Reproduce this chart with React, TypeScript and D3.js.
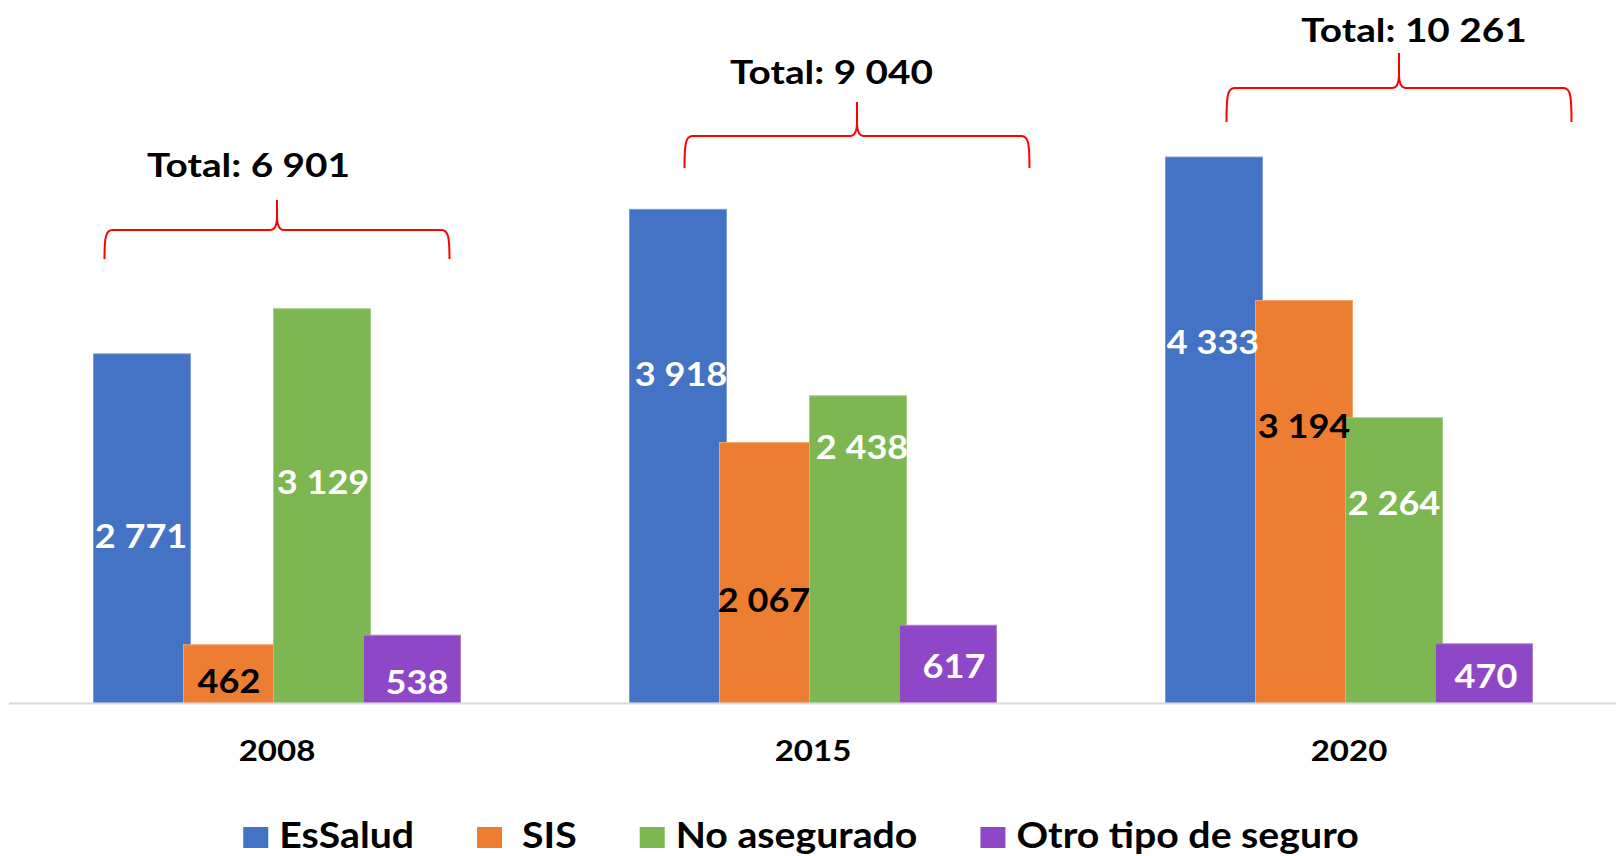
import React, { useEffect, useRef } from "react";
import * as d3 from "d3";

// ---- data ----
const years = ["2008", "2015", "2020"];
const seriesNames = ["EsSalud", "SIS", "No asegurado", "Otro tipo de seguro"];
const esSalud = [2771, 3918, 4333];
const sis = [462, 2067, 3194];
const noAsegurado = [3129, 2438, 2264];
const otroSeguro = [538, 617, 470];
const totals = [6901, 9040, 10261];

// ---- styles ----
const seriesColors = ["#4472C4", "#ED7D31", "#7CB751", "#8E48C7"];
const labelColors = ["#FFFFFF", "#000000", "#FFFFFF", "#FFFFFF"];

// ---- annotation layout (px) ----
// data label offsets from bar centre, [series][year]
const labelDx = [
  [-1, 3, -1],
  [-3, -4, 0],
  [1, 4, 0],
  [5, 6, 2],
];
const labelDy = [
  [8, -82, -87],
  [8, 28, -75],
  [-23, -102, -57],
  [13, 2, 3],
];
const bracketDx = [0, 44, 50];
const bracketTipY = [200, 102, 53];
const bracketMidY = [230, 136, 88];
const bracketBotY = [259, 168, 122];
const totalDx = [-28.5, 18.5, 65];
const totalBaseY = [177, 84, 42];

export default function App() {
  const ref = useRef<SVGSVGElement>(null);

  useEffect(() => {
    const svg = d3.select(ref.current);
    svg.selectAll("*").remove();
    const values = [esSalud, sis, noAsegurado, otroSeguro];

    const W = 1616;
    const x = d3.scaleBand<string>().domain(years).range([9, 1617]).padding(0);
    const xs = d3.scalePoint<string>().domain(seriesNames).range([-135, 135]);
    const y = d3.scaleLinear().domain([0, 5000]).range([703, 73]);
    const barW = 97;
    const fmt = d3
      .formatLocale({ decimal: ",", thousands: " ", grouping: [3], currency: ["", ""] })
      .format(",d");
    const font = "Lato, 'Open Sans', sans-serif";
    const cx = (yr: string) => (x(yr) as number) + x.bandwidth() / 2;

    const txt = (
      g: any,
      tx: number,
      ty: number,
      s: string,
      size: number,
      fill: string,
      anchor: string,
      sx: number
    ) =>
      g
        .append("text")
        .attr("transform", `translate(${tx},${ty}) scale(${sx},1)`)
        .attr("text-anchor", anchor)
        .attr("font-family", font)
        .attr("font-weight", 700)
        .attr("font-size", size)
        .attr("fill", fill)
        .text(s);

    // bars
    const gBars = svg.append("g");
    years.forEach((yr, yi) => {
      seriesNames.forEach((s, si) => {
        const v = values[si][yi];
        gBars
          .append("rect")
          .attr("x", cx(yr) + (xs(s) as number) - barW / 2)
          .attr("y", y(v))
          .attr("width", barW)
          .attr("height", y(0) - y(v))
          .attr("fill", seriesColors[si])
          .attr("stroke", d3.interpolateRgb(seriesColors[si], "#ffffff")(0.3))
          .attr("stroke-width", 1);
      });
    });

    // axis baseline
    svg
      .append("line")
      .attr("x1", 9)
      .attr("x2", W)
      .attr("y1", y(0) + 0.5)
      .attr("y2", y(0) + 0.5)
      .attr("stroke", "#D9D9D9")
      .attr("stroke-width", 2);

    // data labels
    const labelSize = 32;
    const gLab = svg.append("g");
    years.forEach((yr, yi) => {
      seriesNames.forEach((s, si) => {
        const v = values[si][yi];
        const mid = (y(v) + y(0)) / 2;
        txt(
          gLab,
          cx(yr) + (xs(s) as number) + labelDx[si][yi],
          mid + labelDy[si][yi] + labelSize * 0.3583,
          fmt(v),
          labelSize,
          labelColors[si],
          "middle",
          1.13
        );
      });
    });

    // category labels
    const gCat = svg.append("g");
    years.forEach((yr) => {
      txt(gCat, cx(yr), 761, yr, 29.5, "#000000", "middle", 1.12);
    });

    // brackets + totals
    const gBr = svg.append("g");
    const half = 172.5;
    years.forEach((yr, yi) => {
      const c = cx(yr) + bracketDx[yi];
      const L = c - half;
      const R = c + half;
      const tip = bracketTipY[yi];
      const m = bracketMidY[yi];
      const b = bracketBotY[yi];
      const p = d3.path();
      p.moveTo(L, b);
      p.bezierCurveTo(L, m + 8, L + 1, m, L + 8, m);
      p.lineTo(c - 7, m);
      p.bezierCurveTo(c - 2, m, c, m - 4, c, m - 14);
      p.lineTo(c, tip);
      p.moveTo(c, m - 14);
      p.bezierCurveTo(c, m - 4, c + 2, m, c + 7, m);
      p.lineTo(R - 8, m);
      p.bezierCurveTo(R - 1, m, R, m + 8, R, b);
      gBr
        .append("path")
        .attr("d", p.toString())
        .attr("fill", "none")
        .attr("stroke", "#FF0000")
        .attr("stroke-width", 2);
      txt(
        gBr,
        cx(yr) + totalDx[yi],
        totalBaseY[yi],
        `Total: ${fmt(totals[yi])}`,
        33,
        "#000000",
        "middle",
        1.175
      );
    });

    // legend
    const gLeg = svg.append("g");
    const sq = { w: 25, h: 21 };
    const legY = 827;
    const legBase = 848;
    const legSize = 36;
    const legSX = 1.09;
    const items: { g: any; w: number }[] = [];
    seriesNames.forEach((s, si) => {
      const g = gLeg.append("g");
      g.append("rect")
        .attr("x", 0)
        .attr("y", legY)
        .attr("width", sq.w)
        .attr("height", sq.h)
        .attr("fill", seriesColors[si]);
      const gap = si === 1 ? 20 : 11;
      const t = txt(g, sq.w + gap, legBase, s, legSize, "#000000", "start", legSX);
      const tw = (t.node() as SVGTextElement).getComputedTextLength() * legSX;
      items.push({ g, w: sq.w + gap + tw });
    });
    const spacing = 63;
    const totalW = d3.sum(items, (d) => d.w) + spacing * (items.length - 1);
    let lx = 801 - totalW / 2;
    items.forEach((it) => {
      it.g.attr("transform", `translate(${lx},0)`);
      lx += it.w + spacing;
    });
  }, []);

  return (
    <svg
      ref={ref}
      width={1616}
      height={856}
      style={{ position: "absolute", left: 0, top: 0, background: "#ffffff" }}
    />
  );
}
